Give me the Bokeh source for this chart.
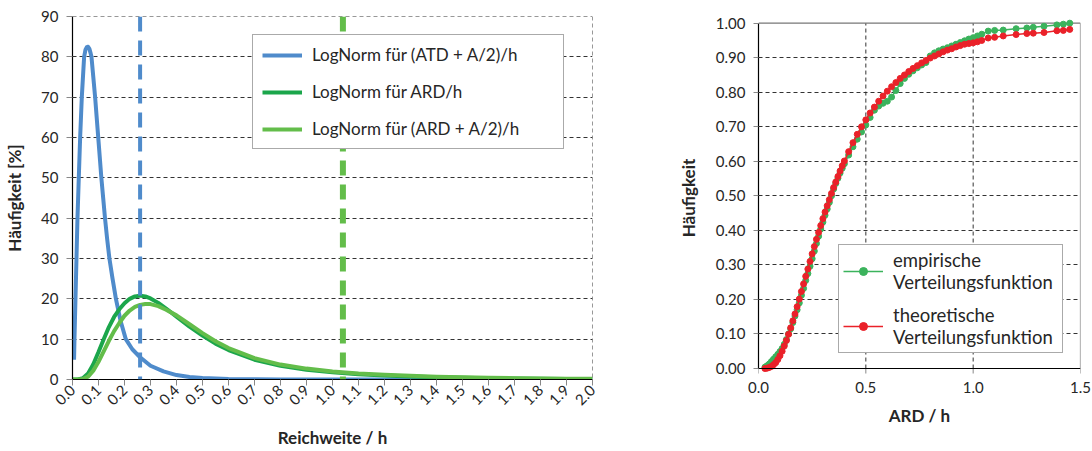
from math import pi
from bokeh.plotting import figure
from bokeh.layouts import row
from bokeh.models import FixedTicker, PrintfTickFormatter, Span, Legend, LegendItem
from bokeh.embed import file_html
from bokeh.resources import INLINE

FONT = "Lato"
TXT = "#262626"

# ---------------- left panel data ----------------
blue_x = [0.006, 0.0076, 0.0114, 0.0153, 0.0191, 0.0242, 0.0294, 0.0358, 0.0447, 0.050, 0.055,
          0.060, 0.065, 0.070, 0.073, 0.080, 0.087, 0.093, 0.099, 0.105, 0.111, 0.118, 0.125,
          0.133, 0.142, 0.154, 0.167, 0.185, 0.205, 0.23, 0.26, 0.30, 0.35, 0.40, 0.45, 0.50,
          0.60, 0.70, 0.80, 1.0, 1.2, 1.5, 2.0]
blue_y = [4.9, 10, 20, 30, 40, 50, 60, 70, 80, 81.8, 82.4,
          82.5, 82.0, 80.8, 80, 75, 70, 65, 60, 55, 50, 45, 40,
          35, 30, 25, 20, 14.5, 10, 7.5, 5.5, 3.4, 2.0, 1.1, 0.6, 0.35,
          0.12, 0.05, 0.02, 0.0, 0.0, 0.0, 0.0]

green_x = [0, 0.02, 0.04, 0.06, 0.08, 0.10, 0.12, 0.14, 0.16, 0.18, 0.20, 0.22, 0.24, 0.26,
           0.28, 0.30, 0.33, 0.36, 0.40, 0.45, 0.50, 0.55, 0.60, 0.70, 0.80, 0.90, 1.00, 1.10,
           1.20, 1.30, 1.40, 1.50, 1.60, 1.70, 1.80, 1.90, 2.00]
ard_y = [0, 0, 0.3, 1.5, 3.8, 6.8, 10.0, 13.0, 15.5, 17.4, 18.9, 20.0, 20.6, 20.8,
         20.6, 20.1, 19.0, 17.6, 15.6, 13.1, 10.9, 8.9, 7.3, 4.9, 3.4, 2.4, 1.8, 1.3,
         1.0, 0.75, 0.55, 0.42, 0.32, 0.25, 0.2, 0.15, 0.12]
ard_half_y = [0, 0, 0.1, 0.7, 2.2, 4.4, 7.0, 9.6, 12.0, 14.0, 15.8, 17.1, 18.0, 18.5,
              18.7, 18.7, 18.2, 17.3, 15.9, 13.7, 11.5, 9.5, 7.8, 5.3, 3.7, 2.7, 2.0, 1.5,
              1.15, 0.9, 0.7, 0.55, 0.43, 0.34, 0.27, 0.21, 0.17]

mean_atd_half = 0.26
mean_ard = 1.04

left_x_ticks = [0.0, 0.1, 0.2, 0.3, 0.4, 0.5, 0.6, 0.7, 0.8, 0.9, 1.0,
                1.1, 1.2, 1.3, 1.4, 1.5, 1.6, 1.7, 1.8, 1.9, 2.0]
left_y_ticks = [0, 10, 20, 30, 40, 50, 60, 70, 80, 90]

labels_left = ["LogNorm für (ATD + A/2)/h", "LogNorm für ARD/h", "LogNorm für (ARD + A/2)/h"]

# ---------------- right panel data ----------------
ard_sorted = [0.03, 0.04, 0.05, 0.06, 0.07, 0.08, 0.09, 0.10, 0.11, 0.12, 0.13, 0.14, 0.15,
              0.16, 0.17, 0.18, 0.19, 0.20, 0.21, 0.22, 0.23, 0.24, 0.25, 0.26, 0.27, 0.28,
              0.29, 0.30, 0.31, 0.32, 0.33, 0.34, 0.35, 0.36, 0.37, 0.38, 0.39, 0.40, 0.42,
              0.44, 0.46, 0.48, 0.50, 0.52, 0.54, 0.56, 0.58, 0.60, 0.62, 0.64, 0.66, 0.68,
              0.70, 0.72, 0.74, 0.76, 0.78, 0.80, 0.82, 0.84, 0.86, 0.88, 0.90, 0.92, 0.94,
              0.96, 0.98, 1.00, 1.02, 1.04, 1.07, 1.10, 1.14, 1.20, 1.25, 1.28, 1.33, 1.39,
              1.42, 1.45]
theo_cdf = [0.000, 0.001, 0.003, 0.006, 0.011, 0.017, 0.026, 0.037, 0.050, 0.065, 0.081, 0.099,
            0.118, 0.138, 0.158, 0.179, 0.201, 0.223, 0.245, 0.267, 0.288, 0.310, 0.332, 0.353,
            0.374, 0.394, 0.414, 0.434, 0.453, 0.471, 0.489, 0.507, 0.524, 0.540, 0.556, 0.572,
            0.587, 0.601, 0.628, 0.654, 0.678, 0.700, 0.720, 0.740, 0.757, 0.774, 0.789, 0.803,
            0.816, 0.828, 0.840, 0.850, 0.860, 0.869, 0.877, 0.885, 0.892, 0.899, 0.905, 0.911,
            0.917, 0.922, 0.926, 0.931, 0.935, 0.939, 0.941, 0.943, 0.946, 0.950, 0.957, 0.959,
            0.963, 0.967, 0.970, 0.971, 0.973, 0.978, 0.979, 0.982]
emp_cdf = [0.004, 0.008, 0.013, 0.020, 0.027, 0.034, 0.041, 0.049, 0.058, 0.070, 0.084, 0.100,
           0.115, 0.133, 0.152, 0.170, 0.190, 0.212, 0.232, 0.255, 0.275, 0.296, 0.318, 0.340,
           0.362, 0.383, 0.404, 0.424, 0.444, 0.462, 0.481, 0.500, 0.520, 0.536, 0.551, 0.566,
           0.580, 0.593, 0.618, 0.642, 0.664, 0.685, 0.705, 0.727, 0.748, 0.760, 0.768, 0.774,
           0.786, 0.805, 0.825, 0.840, 0.852, 0.862, 0.871, 0.879, 0.886, 0.905, 0.914, 0.920,
           0.925, 0.929, 0.934, 0.939, 0.944, 0.949, 0.954, 0.958, 0.963, 0.968, 0.977, 0.979,
           0.980, 0.984, 0.986, 0.988, 0.991, 0.995, 0.997, 1.000]

right_x_ticks = [0.0, 0.5, 1.0, 1.5]
right_y_ticks = [0.0, 0.1, 0.2, 0.3, 0.4, 0.5, 0.6, 0.7, 0.8, 0.9, 1.0]
right_vgrid = [0.5, 1.0]
right_hgrid = [0.1, 0.2, 0.3, 0.4, 0.5, 0.6, 0.7, 0.8, 0.9]
labels_right = ["empirische\nVerteilungsfunktion", "theoretische\nVerteilungsfunktion"]

BLUE = "#4f8bcb"
DGREEN = "#1ba64b"
LGREEN = "#63bd4a"
EGREEN = "#3bb35c"
RED = "#ea2129"
GRID = "#333333"

H = 451          # both figures share the same vertical border layout
TOP = 16
BOTTOM = H - 380
W1 = 620


def style_axes(p, xt, yt, xfmt, yfmt, tick_size):
    for ax in (p.xaxis[0], p.yaxis[0]):
        ax.axis_line_color = "black"
        ax.axis_line_width = 1.2
        ax.major_tick_line_color = "#888888"
        ax.major_tick_in = 0
        ax.major_tick_out = 6
        ax.minor_tick_line_color = None
        ax.major_label_text_font = FONT
        ax.major_label_text_font_size = tick_size
        ax.major_label_text_color = TXT
        ax.axis_label_text_font = FONT
        ax.axis_label_text_font_style = "bold"
        ax.axis_label_text_font_size = "17px"
        ax.axis_label_text_color = TXT
    p.xaxis[0].ticker = FixedTicker(ticks=xt)
    p.yaxis[0].ticker = FixedTicker(ticks=yt)
    p.xaxis[0].formatter = PrintfTickFormatter(format=xfmt)
    p.yaxis[0].formatter = PrintfTickFormatter(format=yfmt)


# ---------------- left figure ----------------
p1 = figure(width=W1, height=H, x_range=(0, 2.0), y_range=(0, 90),
            output_backend="svg", toolbar_location=None,
            min_border_left=72, min_border_right=W1 - 72 - 520,
            min_border_top=TOP, min_border_bottom=BOTTOM)
p1.outline_line_color = None
p1.background_fill_color = "white"
p1.border_fill_color = "white"
style_axes(p1, left_x_ticks, left_y_ticks, "%.1f", "%d", "15px")
p1.xaxis.major_label_orientation = pi / 4
p1.xaxis.major_label_standoff = 2
p1.xaxis.axis_label = "Reichweite / h"
p1.xaxis.axis_label_standoff = 14
p1.yaxis.axis_label = "Häufigkeit [%]"
p1.yaxis.major_label_standoff = 8
p1.yaxis.axis_label_standoff = 13
p1.xgrid.ticker = FixedTicker(ticks=[2.0])
for g in (p1.xgrid[0], p1.ygrid[0]):
    g.grid_line_color = GRID
    g.grid_line_dash = "4 3"
    g.grid_line_width = 1

r_blue = p1.line(blue_x, blue_y, line_color=BLUE, line_width=4, line_join="round")
r_dg = p1.line(green_x, ard_y, line_color=DGREEN, line_width=4, line_join="round")
r_lg = p1.line(green_x, ard_half_y, line_color=LGREEN, line_width=4, line_join="round")

p1.add_layout(Span(location=left_y_ticks[-1], dimension="width", line_color=GRID,
                   line_width=1, line_dash="4 3"))
p1.add_layout(Span(location=left_x_ticks[-1], dimension="height", line_color=GRID,
                   line_width=1, line_dash="4 3"))
p1.add_layout(Span(location=mean_atd_half, dimension="height", line_color=BLUE,
                   line_width=4, line_dash="15 9"))
p1.add_layout(Span(location=mean_ard, dimension="height", line_color=LGREEN,
                   line_width=6, line_dash="15 9"))

leg1 = Legend(items=[LegendItem(label=labels_left[0], renderers=[r_blue]),
                     LegendItem(label=labels_left[1], renderers=[r_dg]),
                     LegendItem(label=labels_left[2], renderers=[r_lg])],
              location=(180, 230), orientation="vertical",
              padding=9, spacing=16, margin=0, glyph_width=40, glyph_height=20,
              label_standoff=10, label_height=20, label_width=242,
              label_text_font=FONT, label_text_font_size="17px", label_text_color=TXT,
              border_line_color="#555555", border_line_width=1.5,
              background_fill_color="white", background_fill_alpha=1.0)
p1.add_layout(leg1)

# ---------------- right figure ----------------
# Its frame shares the screen rows of the left frame (16..380); the value range is
# widened so that 0 and 1 land where the reference draws them (369 and 23).
W2 = 1092 - W1
p2 = figure(width=W2, height=H, x_range=(0, 1.5), y_range=(-0.0318, 1.0193),
            output_backend="svg", toolbar_location=None,
            min_border_left=758 - W1, min_border_right=12,
            min_border_top=TOP, min_border_bottom=BOTTOM)
p2.outline_line_color = None
p2.background_fill_color = "white"
p2.border_fill_color = "white"
style_axes(p2, right_x_ticks, right_y_ticks, "%.1f", "%.2f", "15px")
p2.yaxis.major_tick_out = 5
p2.yaxis.bounds = (right_y_ticks[0], right_y_ticks[-1])
p2.xaxis.axis_line_color = None
p2.xaxis.major_tick_out = 0
p2.xaxis.major_tick_line_color = None
p2.xaxis.axis_label = "ARD / h"
p2.xaxis.major_label_standoff = 2
p2.xaxis.axis_label_standoff = 9
p2.yaxis.axis_label = "Häufigkeit"
p2.yaxis.major_label_standoff = 8
p2.yaxis.axis_label_standoff = 14
p2.xgrid.visible = False
p2.ygrid.ticker = FixedTicker(ticks=right_hgrid)
p2.ygrid.grid_line_color = GRID
p2.ygrid.grid_line_dash = "4 3"
p2.ygrid.grid_line_width = 1

y0_val = right_y_ticks[0]
y1_val = right_y_ticks[-1]
x1_val = right_x_ticks[-1]
tick_len = 0.0145   # ~5px below the zero line

n_v = len(right_vgrid)
p2.segment(x0=right_vgrid, y0=[y0_val] * n_v, x1=right_vgrid, y1=[y1_val] * n_v,
           line_color=GRID, line_width=1, line_dash="4 3")
# plot-area border (top and right)
p2.segment(x0=[right_x_ticks[0], x1_val], y0=[y1_val, y0_val],
           x1=[x1_val, x1_val], y1=[y1_val, y1_val],
           line_color="#777777", line_width=1.2)
# x-axis line at zero and its ticks
n_t = len(right_x_ticks)
p2.segment(x0=right_x_ticks, y0=[y0_val] * n_t, x1=right_x_ticks, y1=[y0_val - tick_len] * n_t,
           line_color="#888888", line_width=1)
p2.add_layout(Span(location=y0_val, dimension="width", line_color="black", line_width=1.2))

e_line = p2.line(ard_sorted, emp_cdf, line_color=EGREEN, line_width=1.5)
e_pts = p2.scatter(ard_sorted, emp_cdf, size=6, fill_color=EGREEN, line_color=EGREEN)
t_line = p2.line(ard_sorted, theo_cdf, line_color=RED, line_width=1.5)
t_pts = p2.scatter(ard_sorted, theo_cdf, size=6, fill_color=RED, line_color=RED)

leg2 = Legend(items=[LegendItem(label=labels_right[0], renderers=[e_line, e_pts]),
                     LegendItem(label=labels_right[1], renderers=[t_line, t_pts])],
              location=(80, 26), orientation="vertical",
              padding=4, spacing=11, margin=0, glyph_width=40, glyph_height=20,
              label_standoff=10, label_width=165,
              label_text_font=FONT, label_text_font_size="18.5px", label_text_color=TXT,
              label_text_line_height=1.75,
              border_line_color="#555555", border_line_width=1.5,
              background_fill_color="white", background_fill_alpha=1.0)
p2.add_layout(leg2)

layout = row(p1, p2)
open("out.html", "w").write(file_html(layout, INLINE))
